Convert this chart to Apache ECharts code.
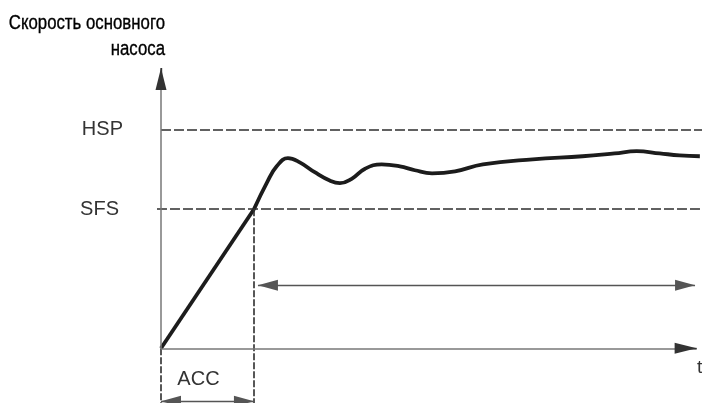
<!DOCTYPE html>
<html>
<head>
<meta charset="utf-8">
<script src="https://cdn.jsdelivr.net/npm/echarts@6/dist/echarts.min.js"></script>
<style>
  html, body { margin: 0; padding: 0; background: #fff; }
  #chart { width: 702px; height: 403px; }
</style>
</head>
<body>
<div id="chart"></div>
<script>
// уровни скорости (HSP = 100 %)
const HSP = 100;
const SFS = 63.5;
const ACC_END = 17.35;   // конец разгона
// разгон до SFS
const rampTime = [0, ACC_END];
const rampSpeed = [0, SFS];
// переходный процесс после SFS
const curveTime = [17.35, 19.8, 21.6, 23.7, 25.9, 28.7, 31.5, 33.4, 35.6, 38.1, 41.2, 44.6,
  47.4, 50.6, 54.9, 60.1, 69.4, 78.7, 84.7, 88.8, 93.1, 96.8, 100.6];
const curveSpeed = [63.5, 75.8, 83.1, 86.8, 84.9, 80.4, 76.6, 75.4, 77.4, 82.0, 84.0, 83.1,
  81.3, 79.9, 80.8, 84.0, 86.3, 87.7, 89.0, 90.0, 89.0, 88.1, 87.7];
const T_END = 100;       // конец оси t
const SPEED_TOP = 128;   // конец оси скорости
const RUN_Y = 28.8;      // стрелка "работа"
const RUN_FROM = 18.1;
const RUN_TO = 99.7;
const ACC_Y = -24.2;     // стрелка ACC

const zip = (a, b) => a.map((v, i) => [v, b[i]]);
const FONT = '"Liberation Sans", Arial, sans-serif';

const chart = echarts.init(document.getElementById('chart'));

function mark(data, opt) {
  return Object.assign({
    silent: true,
    animation: false,
    symbol: ['none', 'none'],
    label: { show: false },
    emphasis: { disabled: true },
    data: data
  }, opt);
}

const dashStyle = { color: '#2e2e2e', width: 1.6, type: [10, 3] };
const vDashStyle = { color: '#2e2e2e', width: 1.6, type: [7, 2] };
const axisStyle = { color: '#777', width: 1.5, type: 'solid' };
const arrowStyle = { color: '#555', width: 1.4, type: 'solid' };
const headStyle = { color: '#333', width: 1.4, type: 'solid' };

const option = {
  animation: false,
  grid: { left: 155.64, right: 0, top: 68, bottom: 0 },
  xAxis: {
    type: 'value', min: -1, max: 101,
    show: false
  },
  yAxis: {
    type: 'value', min: -25, max: SPEED_TOP,
    show: false
  },
  graphic: [
    {
      type: 'text', x: 165, y: 10, scaleX: 0.84,
      style: {
        text: 'Скорость основного\nнасоса',
        align: 'right',
        font: '20px "Liberation Sans", Arial, sans-serif',
        lineHeight: 26,
        fill: '#000',
        stroke: '#000',
        lineWidth: 0.35
      }
    },
    {
      type: 'text', x: 697, y: 358,
      style: { text: 't', font: '19px ' + FONT, fill: '#333' }
    }
  ],
  series: [
    {
      // уровни HSP и SFS
      type: 'line', data: [], silent: true,
      markLine: mark([
        [{ coord: [0, HSP], label: { show: true, formatter: 'HSP' } }, { coord: [101, HSP] }],
        [{ coord: [-0.75, SFS], label: { show: true, formatter: 'SFS' } }, { coord: [101, SFS] }]
      ], {
        lineStyle: dashStyle,
        label: { show: true, position: 'start', distance: 38, color: '#333', fontSize: 20, fontFamily: FONT }
      })
    },
    {
      type: 'line', data: [], silent: true,
      markLine: mark([
        [{ coord: [ACC_END, SFS] }, { coord: [ACC_END, -25] }],
        [{ coord: [0, 0] }, { coord: [0, -25] }]
      ], { lineStyle: vDashStyle })
    },
    {
      // оси
      type: 'line', data: [], silent: true,
      markLine: mark([
        [{ coord: [0, 0] }, { coord: [T_END, 0] }],
        [{ coord: [0, 0] }, { coord: [0, SPEED_TOP] }]
      ], { lineStyle: axisStyle })
    },
    {
      // наконечники осей
      type: 'line', data: [], silent: true,
      markLine: mark([
        [{ coord: [T_END - 2, 0] }, { coord: [T_END, 0] }],
        [{ coord: [0, SPEED_TOP - 5] }, { coord: [0, SPEED_TOP] }]
      ], {
        symbol: ['none', 'triangle'],
        symbolSize: [11, 22],
        symbolOffset: [[0, 0], [0, 11]],
        lineStyle: headStyle
      })
    },
    {
      type: 'line', data: [], silent: true,
      markLine: mark([
        [{ coord: [RUN_FROM, RUN_Y] }, { coord: [RUN_TO, RUN_Y] }],
        [{ coord: [0, ACC_Y], label: { show: true, formatter: 'ACC' } }, { coord: [ACC_END, ACC_Y] }]
      ], {
        symbol: ['triangle', 'triangle'],
        symbolSize: [11, 20],
        symbolOffset: [[0, 10], [0, 10]],
        lineStyle: arrowStyle,
        itemStyle: { color: '#333' },
        label: { show: true, position: 'middle', distance: 12, offset: [-9, 0], color: '#333', fontSize: 20, fontFamily: FONT }
      })
    },
    {
      name: 'Разгон',
      type: 'line',
      data: zip(rampTime, rampSpeed),
      showSymbol: false,
      silent: true,
      lineStyle: { color: '#1c1c1c', width: 3.8 }
    },
    {
      name: 'Скорость',
      type: 'line',
      data: zip(curveTime, curveSpeed),
      smooth: 0.45,
      showSymbol: false,
      silent: true,
      clip: false,
      lineStyle: { color: '#1c1c1c', width: 3.8 }
    }
  ]
};

chart.setOption(option);
</script>
</body>
</html>
